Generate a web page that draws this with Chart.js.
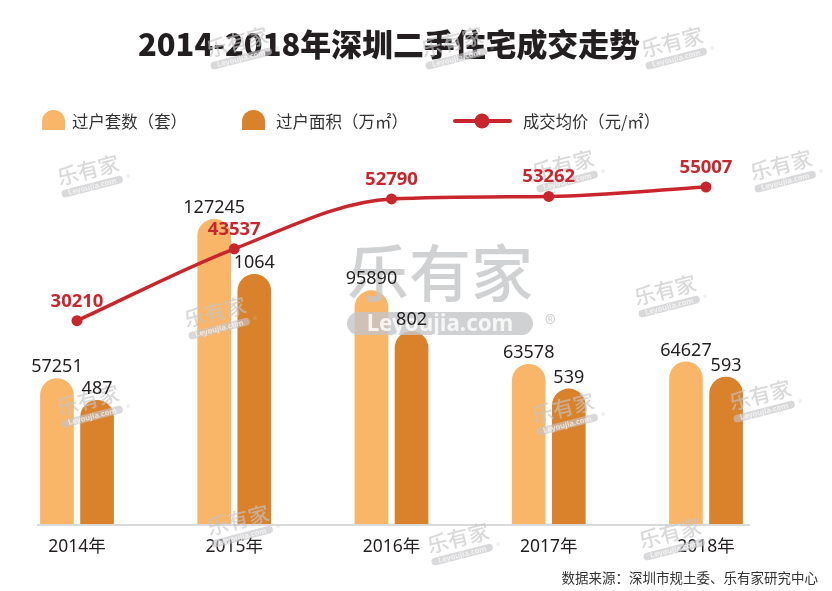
<!DOCTYPE html>
<html>
<head>
<meta charset="utf-8">
<script src="https://cdn.jsdelivr.net/npm/chart.js@4.4.0/dist/chart.umd.min.js"></script>
<style>
    html, body { margin: 0; padding: 0; background: #fff; }
    #chart { display: block; }
</style>
</head>
<body>
<canvas id="chart" width="832" height="591"></canvas>
<script>
// DATA
const years = ['2014年', '2015年', '2016年', '2017年', '2018年'];
const deals = [57251, 127245, 95890, 63578, 64627];   // 过户套数（套）
const areas = [487, 1064, 802, 539, 593];             // 过户面积（万㎡）
const prices = [30210, 43537, 52790, 53262, 55007];   // 成交均价（元/㎡）
const seriesNames = ['过户套数（套）', '过户面积（万㎡）', '成交均价（元/㎡）'];

const titleText = '2014-2018年深圳二手住宅成交走势';
const sourceText = '数据来源：深圳市规土委、乐有家研究中心';

// axis ranges (the original bars do not start from zero)
const dealsRange = [-6765, 153168];
const areasRange = [-81, 1586];
const pricesRange = [-7494, 60014];

const LIGHT = '#F9B669', DARK = '#D9812B', RED = '#C9252C', INK = '#231F20';
const CJK = '"Noto Sans CJK SC", "Noto Sans", sans-serif';
const LATIN = '"Noto Sans", "Noto Sans CJK SC", sans-serif';

// draw a text squeezed/stretched to a given width
function fitText(ctx, text, x, y, width) {
    var w = ctx.measureText(text).width;
    ctx.save();
    ctx.translate(x, y);
    ctx.scale(width / w, 1);
    ctx.fillText(text, 0, 0);
    ctx.restore();
}

function roundTop(ctx, x, y, w, h, color) {
    var r = w / 2;
    ctx.beginPath();
    ctx.moveTo(x, y + h);
    ctx.lineTo(x, y + r);
    ctx.arc(x + r, y + r, r, Math.PI, 0);
    ctx.lineTo(x + w, y + h);
    ctx.closePath();
    ctx.fillStyle = color;
    ctx.fill();
}

function pill(ctx, x, y, w, h) {
    var r = h / 2;
    ctx.beginPath();
    ctx.moveTo(x + r, y);
    ctx.lineTo(x + w - r, y);
    ctx.arc(x + w - r, y + r, r, -Math.PI / 2, Math.PI / 2);
    ctx.lineTo(x + r, y + h);
    ctx.arc(x + r, y + r, r, Math.PI / 2, Math.PI * 1.5);
    ctx.closePath();
    ctx.fill();
}

// 乐有家 watermark, (cx, cy) = middle of the big characters
function drawMark(ctx, cx, cy, F, angle, alpha) {
    ctx.save();
    ctx.translate(cx, cy);
    ctx.rotate(angle);
    ctx.globalAlpha = alpha;
    ctx.fillStyle = '#C4C5C7';
    ctx.textAlign = 'center';
    ctx.textBaseline = 'middle';
    ctx.font = '500 ' + F + 'px ' + CJK;
    ctx.fillText('乐有家', 0, 0);
    pill(ctx, -1.5 * F, 0.63 * F, 3 * F, 0.37 * F);
    ctx.font = (0.36 * F) + 'px ' + CJK;
    ctx.fillText('®', 1.78 * F, 0.82 * F);
    ctx.fillStyle = '#FFFFFF';
    ctx.font = 'bold ' + (0.36 * F) + 'px ' + LATIN;
    ctx.fillText('Leyoujia.com', 0, 0.83 * F);
    ctx.restore();
}

const smallMarks = [
    [88, 170], [563, 165], [781, 165], [215, 312], [665, 290],
    [88, 400], [563, 408], [760, 395], [238, 520], [458, 538],
    [670, 533], [237, 42], [452, 42], [672, 42]
];

const decor = {
    id: 'decor',
    beforeDraw(chart) {
        const ctx = chart.ctx;
        ctx.save();
        ctx.fillStyle = '#fff';
        ctx.fillRect(0, 0, chart.width, chart.height);

        // title
        ctx.fillStyle = INK;
        ctx.textAlign = 'left';
        ctx.textBaseline = 'middle';
        ctx.font = '900 31px ' + CJK;
        fitText(ctx, titleText, 138, 44, 502);

        // legend
        ctx.font = '16.5px ' + CJK;
        roundTop(ctx, 42, 110, 23, 20, LIGHT);
        ctx.fillStyle = '#333';
        fitText(ctx, chart.data.datasets[0].label, 72, 122, 115);
        roundTop(ctx, 242, 110, 23, 20, DARK);
        ctx.fillStyle = '#333';
        fitText(ctx, chart.data.datasets[1].label, 276, 122, 132);
        ctx.strokeStyle = RED;
        ctx.lineWidth = 4;
        ctx.lineCap = 'round';
        ctx.beginPath();
        ctx.moveTo(455, 121);
        ctx.lineTo(510, 121);
        ctx.stroke();
        ctx.fillStyle = RED;
        ctx.beginPath();
        ctx.arc(482, 121, 7.5, 0, Math.PI * 2);
        ctx.fill();
        ctx.fillStyle = '#333';
        fitText(ctx, chart.data.datasets[2].label, 523, 122, 137);

        // source
        ctx.font = '13.5px ' + CJK;
        ctx.textAlign = 'right';
        ctx.fillStyle = '#333';
        ctx.fillText(sourceText, 818, 578);
        ctx.restore();
    },
    beforeDatasetsDraw(chart) {
        const ctx = chart.ctx;
        const y = chart.chartArea.bottom + 1;
        ctx.save();
        ctx.strokeStyle = '#DADADA';
        ctx.lineWidth = 2;
        ctx.beginPath();
        ctx.moveTo(37, y);
        ctx.lineTo(750, y);
        ctx.stroke();
        ctx.restore();
    },
    afterDatasetsDraw(chart) {
        const ctx = chart.ctx;
        // watermarks
        drawMark(ctx, 440, 273, 62, 0, 0.8);
        smallMarks.forEach((m) => drawMark(ctx, m[0], m[1], 21, -0.25, 0.65));

        // value labels
        ctx.save();
        ctx.textAlign = 'center';
        ctx.textBaseline = 'alphabetic';
        [0, 1].forEach((d) => {
            const meta = chart.getDatasetMeta(d);
            ctx.font = '18px ' + LATIN;
            ctx.fillStyle = INK;
            meta.data.forEach((bar, i) => {
                ctx.fillText(String(chart.data.datasets[d].data[i]), bar.x, bar.y - 6);
            });
        });
        const lineMeta = chart.getDatasetMeta(2);
        ctx.font = 'bold 18.5px ' + LATIN;
        ctx.fillStyle = RED;
        lineMeta.data.forEach((pt, i) => {
            ctx.fillText(String(prices[i]), pt.x, pt.y - 14);
        });
        ctx.restore();
    }
};

new Chart(document.getElementById('chart'), {
    type: 'bar',
    data: {
        labels: years,
        datasets: [
            {
                label: seriesNames[0],
                data: deals,
                yAxisID: 'yDeals',
                backgroundColor: LIGHT,
                base: dealsRange[0],
                borderRadius: { topLeft: 30, topRight: 30, bottomLeft: 0, bottomRight: 0 },
                borderSkipped: false,
                categoryPercentage: 0.51,
                barPercentage: 0.84,
                clip: false,
                order: 1
            },
            {
                label: seriesNames[1],
                data: areas,
                yAxisID: 'yAreas',
                backgroundColor: DARK,
                base: areasRange[0],
                borderRadius: { topLeft: 30, topRight: 30, bottomLeft: 0, bottomRight: 0 },
                borderSkipped: false,
                categoryPercentage: 0.51,
                barPercentage: 0.84,
                clip: false,
                order: 1
            },
            {
                type: 'line',
                label: seriesNames[2],
                data: prices,
                yAxisID: 'yPrices',
                borderColor: RED,
                backgroundColor: RED,
                borderWidth: 3.5,
                pointRadius: 5.5,
                pointBorderWidth: 0,
                pointBackgroundColor: RED,
                cubicInterpolationMode: 'monotone',
                clip: false,
                order: 0
            }
        ]
    },
    options: {
        responsive: false,
        animation: false,
        devicePixelRatio: 1,
        layout: { padding: { top: 160, left: 77, right: 126, bottom: 20 } },
        plugins: {
            legend: { display: false },
            title: { display: false },
            tooltip: { enabled: false }
        },
        scales: {
            x: {
                offset: false,
                grid: { display: false, drawTicks: false },
                border: { display: false },
                ticks: {
                    color: INK,
                    font: { family: LATIN, size: 17.5 },
                    padding: 13,
                    maxRotation: 0,
                    autoSkip: false
                }
            },
            yDeals: { display: false, min: dealsRange[0], max: dealsRange[1] },
            yAreas: { display: false, min: areasRange[0], max: areasRange[1] },
            yPrices: { display: false, min: pricesRange[0], max: pricesRange[1] }
        }
    },
    plugins: [decor]
});
</script>
</body>
</html>
